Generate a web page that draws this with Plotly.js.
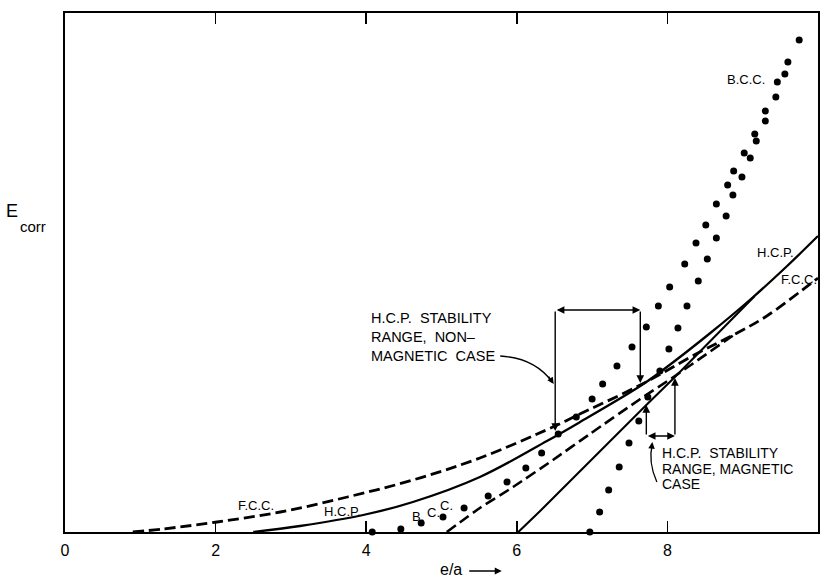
<!DOCTYPE html>
<html>
<head>
<meta charset="utf-8">
<script src="https://cdn.plot.ly/plotly-3.0.1.min.js"></script>
<style>html,body{margin:0;padding:0;background:#fff;}#chart{width:820px;height:578px;}</style>
</head>
<body>
<div id="chart"></div>
<script>
// e/a values and correlation energies (arbitrary units)
const fccX = [0.90, 1.30, 2.02, 2.86, 3.75, 4.62, 5.51, 6.48, 6.81, 7.64, 8.43, 8.90, 9.32, 9.93, 10.0];
const fccY = [0.00, 0.03, 0.10, 0.20, 0.35, 0.52, 0.74, 1.05, 1.17, 1.47, 1.80, 1.98, 2.16, 2.50, 2.54];

const hcpX = [2.50, 3.12, 3.96, 4.62, 5.51, 6.40, 6.84, 7.64, 7.94, 8.57, 9.14, 9.59, 10.0];
const hcpY = [0.00, 0.06, 0.17, 0.30, 0.55, 0.91, 1.10, 1.46, 1.62, 1.99, 2.35, 2.66, 2.96];

const fccMagX = [5.07, 5.51, 5.95, 6.48, 6.97, 7.64, 8.10, 8.90];
const fccMagY = [0.00, 0.24, 0.45, 0.72, 0.98, 1.33, 1.56, 1.98];

const hcpMagX = [6.02, 6.31, 7.72, 8.10, 9.16];
const hcpMagY = [0.00, 0.21, 1.27, 1.55, 2.36];

const bccX = [4.08, 4.46, 4.73, 5.02, 5.30, 5.62, 5.87, 6.12, 6.33, 6.55, 6.79, 7.00, 7.14, 7.33, 7.53,
              7.72, 7.88, 8.03, 8.23, 8.38, 8.51, 8.65, 8.80, 8.88, 9.02, 9.16, 9.30, 9.46, 9.60, 9.75];
const bccY = [0.00, 0.03, 0.09, 0.15, 0.24, 0.36, 0.50, 0.64, 0.79, 0.98, 1.15, 1.33, 1.48, 1.66, 1.85,
              2.05, 2.26, 2.45, 2.68, 2.89, 3.07, 3.28, 3.47, 3.61, 3.79, 3.98, 4.21, 4.50, 4.70, 4.92];

const bccMagX = [6.97, 7.10, 7.22, 7.36, 7.49, 7.62, 7.74, 7.90, 8.02, 8.14, 8.26, 8.41, 8.53, 8.65,
                 8.78, 8.87, 8.99, 9.10, 9.18, 9.30, 9.44, 9.56];
const bccMagY = [0.00, 0.20, 0.42, 0.65, 0.89, 1.11, 1.35, 1.61, 1.83, 2.04, 2.26, 2.51, 2.73, 2.94,
                 3.16, 3.37, 3.55, 3.74, 3.91, 4.11, 4.35, 4.58];

const xTickVals = [0, 2, 4, 6, 8, 10];
const xTickText = ['0', '2', '4', '6', '8', '10'];

const FONT = 'Liberation Sans, Arial, sans-serif';

const traces = [
  {x: fccX, y: fccY, mode: 'lines', line: {color: '#000', width: 2.8, dash: '11px,5px', shape: 'spline', smoothing: 1}, hoverinfo: 'skip'},
  {x: hcpX, y: hcpY, mode: 'lines', line: {color: '#000', width: 2.3, shape: 'spline', smoothing: 1}, hoverinfo: 'skip'},
  {x: fccMagX, y: fccMagY, mode: 'lines', line: {color: '#000', width: 2.6, dash: '11px,5px', shape: 'spline', smoothing: 0.6}, hoverinfo: 'skip'},
  {x: hcpMagX, y: hcpMagY, mode: 'lines', line: {color: '#000', width: 2.1}, hoverinfo: 'skip'},
  {x: bccX, y: bccY, mode: 'markers', marker: {color: '#000', size: 7}, cliponaxis: false, hoverinfo: 'skip'},
  {x: bccMagX, y: bccMagY, mode: 'markers', marker: {color: '#000', size: 7}, cliponaxis: false, hoverinfo: 'skip'}
];

function label(text, x, y, size, anchor) {
  return {text: text, x: x, y: y, xref: 'x', yref: 'y', showarrow: false,
          xanchor: anchor || 'center', yanchor: 'middle',
          font: {family: FONT, size: size || 12, color: '#000'}};
}
function arrow(x, y, ax, ay, both) {
  return {text: '', x: x, y: y, ax: ax, ay: ay, xref: 'x', yref: 'y', axref: 'x', ayref: 'y',
          showarrow: true, arrowhead: 2, arrowsize: 1.1, arrowwidth: 1.4, arrowcolor: '#000',
          arrowside: both ? 'end+start' : 'end'};
}
function tip(x, y, ax, ay) {
  return {text: '', x: x, y: y, ax: ax, ay: ay, xref: 'x', yref: 'y',
          showarrow: true, arrowhead: 2, arrowsize: 1.1, arrowwidth: 1.2, arrowcolor: '#000'};
}

const NB = '\u00a0';
const annotations = [
  // non-magnetic range
  arrow(7.64, 2.22, 6.51, 2.22, true),
  arrow(7.64, 1.49, 7.64, 2.22, false),
  arrow(6.51, 1.01, 6.51, 2.22, false),
  label('H.C.P.' + NB + NB + 'STABILITY', 4.04, 2.14, 14.5, 'left'),
  label('RANGE,' + NB + NB + 'NON–', 4.04, 1.95, 14.5, 'left'),
  label('MAGNETIC' + NB + NB + 'CASE', 4.04, 1.76, 14.5, 'left'),
  tip(6.49, 1.48, -6, -9),
  // magnetic range
  arrow(8.10, 0.96, 7.72, 0.96, true),
  arrow(7.72, 1.27, 7.72, 0.96, false),
  arrow(8.10, 1.54, 8.10, 0.96, false),
  label('H.C.P.' + NB + NB + 'STABILITY', 7.90, 0.79, 14, 'left'),
  label('RANGE,' + NB + 'MAGNETIC', 7.90, 0.63, 14, 'left'),
  label('CASE', 7.90, 0.48, 14, 'left'),
  tip(7.80, 0.90, -1, 8),
  // curve labels
  label('B.C.C.', 9.04, 4.53, 13),
  label('H.C.P.', 9.43, 2.80, 13),
  label('F.C.C.', 9.75, 2.53, 13),
  label('F.C.C.', 2.54, 0.27, 13),
  label('H.C.P.', 3.69, 0.21, 13),
  label('B.', 4.69, 0.16, 13),
  label('C.', 4.89, 0.20, 13),
  label('C.', 5.06, 0.27, 13),
  // axis titles
  {text: 'E', x: -0.070, y: 0.618, xref: 'paper', yref: 'paper', showarrow: false,
   xanchor: 'center', yanchor: 'middle', font: {family: FONT, size: 18, color: '#000'}},
  {text: 'corr', x: -0.063, y: 0.588, xref: 'paper', yref: 'paper', showarrow: false,
   xanchor: 'left', yanchor: 'middle', font: {family: FONT, size: 15, color: '#000'}},
  {text: 'e/a', x: 0.513, y: -0.073, xref: 'paper', yref: 'paper', showarrow: false,
   xanchor: 'center', yanchor: 'middle', font: {family: FONT, size: 16, color: '#000'}},
  {text: '', x: 0.580, y: -0.075, xref: 'paper', yref: 'paper', ax: -34, ay: 0,
   showarrow: true, arrowhead: 2, arrowsize: 1, arrowwidth: 1.4, arrowcolor: '#000'}
];

const shapes = [
  {type: 'path', xref: 'x', yref: 'y', path: 'M5.78,1.76 Q6.24,1.74 6.47,1.50', line: {color: '#000', width: 1.3}},
  {type: 'path', xref: 'x', yref: 'y', path: 'M7.86,0.50 Q7.74,0.70 7.80,0.88', line: {color: '#000', width: 1.3}}
];

const layout = {
  width: 820, height: 578,
  margin: {l: 65, r: 2, t: 13, b: 46},
  paper_bgcolor: '#fff', plot_bgcolor: '#fff',
  showlegend: false,
  xaxis: {
    range: [0, 10], tickvals: xTickVals, ticktext: xTickText,
    ticks: 'inside', ticklen: 11, tickwidth: 1.6, tickcolor: '#000',
    showline: true, linecolor: '#000', linewidth: 1.6, mirror: 'ticks',
    showgrid: false, zeroline: false,
    tickfont: {family: FONT, size: 16, color: '#000'},
    ticklabelstandoff: 3
  },
  yaxis: {
    range: [0, 5.19], showticklabels: false, ticks: '',
    showline: true, linecolor: '#000', linewidth: 1.6, mirror: true,
    showgrid: false, zeroline: false
  },
  annotations: annotations,
  shapes: shapes
};

Plotly.newPlot('chart', traces, layout, {staticPlot: true, displayModeBar: false});
</script>
</body>
</html>
